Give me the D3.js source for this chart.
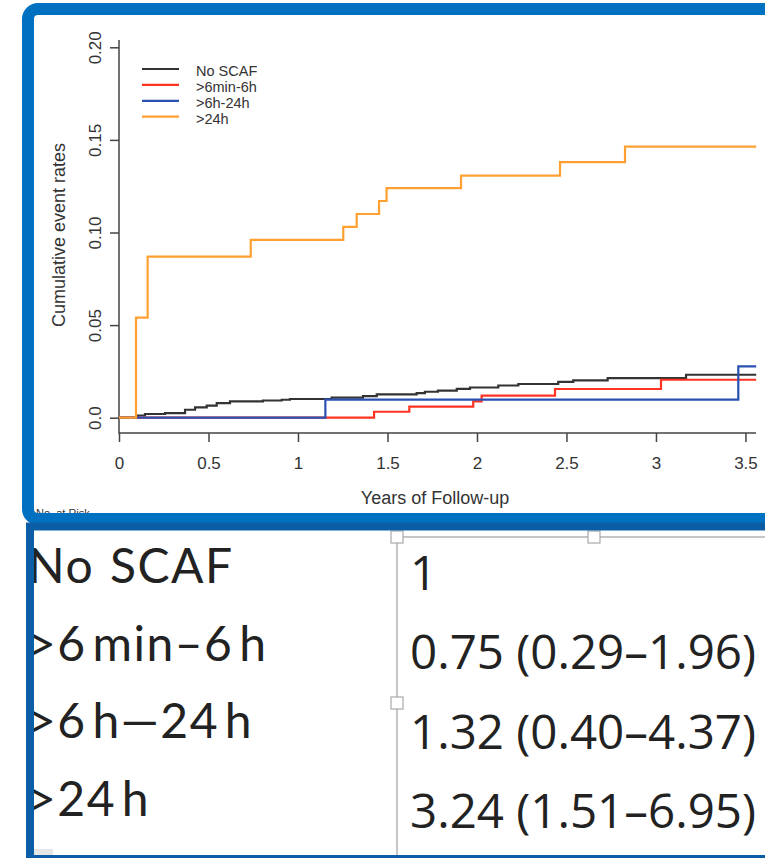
<!DOCTYPE html>
<html>
<head>
<meta charset="utf-8">
<script src="https://cdn.jsdelivr.net/npm/d3@7/dist/d3.min.js"></script>
<style>
  body { margin: 0; background: #fff; }
  svg { display: block; }
</style>
</head>
<body>
<svg id="chart" width="765" height="858"></svg>
<script>
// curve data (years, cumulative rate)
var noScafT = [0, 0.106, 0.145, 0.257, 0.369, 0.425, 0.49, 0.546, 0.62, 0.804, 0.909, 0.955,
               1.188, 1.363, 1.44, 1.663, 1.709, 1.782, 1.887, 1.961, 2.119, 2.231, 2.454,
               2.538, 2.73, 3.168, 3.56];
var noScafV = [0, 0.0012, 0.002, 0.0025, 0.0043, 0.0056, 0.0065, 0.0079, 0.0088, 0.0093, 0.0097, 0.0101,
               0.0108, 0.0117, 0.0126, 0.0133, 0.014, 0.0146, 0.0156, 0.0163, 0.0174, 0.0182, 0.0193,
               0.0202, 0.0214, 0.0232, 0.0232];
var minToSixT = [0, 1.425, 1.622, 1.979, 2.026, 2.436, 3.028, 3.56];
var minToSixV = [0, 0.0032, 0.006, 0.0088, 0.0119, 0.0155, 0.0205, 0.0205];
var sixTo24T = [0, 1.153, 3.46, 3.56];
var sixTo24V = [0, 0.0098, 0.0277, 0.0277];
var over24T = [0, 0.095, 0.16, 0.736, 1.253, 1.328, 1.453, 1.495, 1.911, 2.464, 2.827, 3.56];
var over24V = [0, 0.054, 0.087, 0.096, 0.103, 0.110, 0.117, 0.124, 0.1307, 0.138, 0.1464, 0.1464];

var seriesNames = ['No SCAF', '>6min-6h', '>6h-24h', '>24h'];
var seriesColors = ['#333333', '#ff3322', '#2a50b2', '#ffa030'];

var xTicks = [0, 0.5, 1, 1.5, 2, 2.5, 3, 3.5];
var xTickLabels = ['0', '0.5', '1', '1.5', '2', '2.5', '3', '3.5'];
var yTicks = [0, 0.05, 0.10, 0.15, 0.20];
var yTickLabels = ['0.0', '0.05', '0.10', '0.15', '0.20'];

// table under the plot
var groupLabels = ['No SCAF', '>6 min\u20136 h', '>6 h\u201424 h', '>24 h'];
var hazardLabels = ['1', '0.75 (0.29\u20131.96)', '1.32 (0.40\u20134.37)', '3.24 (1.51\u20136.95)'];

var svg = d3.select('#chart');
var series = [
    {t: noScafT, v: noScafV},
    {t: minToSixT, v: minToSixV},
    {t: sixTo24T, v: sixTo24V},
    {t: over24T, v: over24V}
];

var x = d3.scaleLinear().domain([0, 3.56]).range([119, 756.2]);
var y = d3.scaleLinear().domain([0, 0.2]).range([417.7, 47.3]);
var box = {left: 119, right: 756, top: 40, bottom: 433};
var axisColor = '#444';

// top panel
svg.append('rect')
    .attr('x', 28).attr('y', 9).attr('width', 800).attr('height', 510)
    .attr('rx', 10).attr('fill', '#fff');

var plot = svg.append('g');

// L-shaped box
plot.append('path')
    .attr('d', 'M' + box.left + ',' + box.top + 'V' + box.bottom + 'H' + box.right)
    .attr('fill', 'none').attr('stroke', axisColor).attr('stroke-width', 1.5);

var xAxis = d3.axisBottom(x)
    .tickValues(xTicks)
    .tickSize(9)
    .tickFormat(function (d, i) { return xTickLabels[i]; });

var gx = plot.append('g')
    .attr('transform', 'translate(0,' + box.bottom + ')')
    .call(xAxis);
gx.select('.domain').remove();
gx.selectAll('.tick line').attr('stroke', axisColor).attr('stroke-width', 1.5);
gx.selectAll('.tick text')
    .attr('y', 36).attr('dy', 0)
    .attr('fill', '#333')
    .style('font-family', 'Liberation Sans, Arial, sans-serif')
    .style('font-size', '17px');

var yAxis = d3.axisLeft(y)
    .tickValues(yTicks)
    .tickSize(9)
    .tickFormat(function (d, i) { return yTickLabels[i]; });

var gy = plot.append('g')
    .attr('transform', 'translate(' + box.left + ',0)')
    .call(yAxis);
gy.select('.domain').remove();
gy.selectAll('.tick line').attr('stroke', axisColor).attr('stroke-width', 1.5);
gy.selectAll('.tick text')
    .attr('transform', 'rotate(-90)')
    .attr('x', 0).attr('y', -18).attr('dy', 0)
    .attr('text-anchor', 'middle')
    .attr('fill', '#333')
    .style('font-family', 'Liberation Sans, Arial, sans-serif')
    .style('font-size', '17px');

plot.append('text')
    .attr('transform', 'translate(65,235) rotate(-90)')
    .attr('text-anchor', 'middle')
    .attr('fill', '#333')
    .style('font-family', 'Liberation Sans, Arial, sans-serif')
    .style('font-size', '18px')
    .text('Cumulative event rates');

plot.append('text')
    .attr('x', 435).attr('y', 504)
    .attr('text-anchor', 'middle')
    .attr('fill', '#333')
    .style('font-family', 'Liberation Sans, Arial, sans-serif')
    .style('font-size', '18px')
    .text('Years of Follow-up');

plot.append('text')
    .attr('x', 36).attr('y', 517)
    .attr('fill', '#333')
    .style('font-family', 'Liberation Sans, Arial, sans-serif')
    .style('font-size', '11px')
    .text('No. at Risk');

// step curves
var line = d3.line()
    .x(function (d) { return x(d[0]); })
    .y(function (d) { return y(d[1]); })
    .curve(d3.curveStepAfter);

plot.selectAll('.curve')
    .data(series)
  .enter()
    .append('path')
    .attr('class', 'curve')
    .attr('fill', 'none')
    .attr('stroke', function (d, i) { return seriesColors[i]; })
    .attr('stroke-width', 2.2)
    .attr('d', function (d) { return line(d3.zip(d.t, d.v)); });

// legend
var legend = plot.append('g').attr('class', 'legend');
var entries = legend.selectAll('.entry')
    .data(seriesNames)
  .enter()
    .append('g')
    .attr('class', 'entry')
    .attr('transform', function (d, i) { return 'translate(142,' + (69 + i * 15.9) + ')'; });

entries.append('line')
    .attr('x1', 0).attr('x2', 37)
    .attr('stroke', function (d, i) { return seriesColors[i]; })
    .attr('stroke-width', 2.2);

entries.append('text')
    .attr('x', 54).attr('y', 7)
    .attr('fill', '#333')
    .style('font-family', 'Liberation Sans, Arial, sans-serif')
    .style('font-size', '14.5px')
    .text(function (d) { return d; });

// frame of the top panel, drawn over the content
svg.append('rect')
    .attr('x', 28).attr('y', 9).attr('width', 800).attr('height', 510)
    .attr('rx', 10).attr('fill', 'none')
    .attr('stroke', '#0070c0').attr('stroke-width', 12);

// bottom panel
svg.append('rect')
    .attr('x', 30).attr('y', 526.5).attr('width', 800).attr('height', 332.5)
    .attr('fill', '#fff');

var table = svg.append('g');

table.append('path')
    .attr('d', 'M397,537V858M397,537H765')
    .attr('fill', 'none').attr('stroke', '#b4b4b4').attr('stroke-width', 1.5);

var leftRow = d3.scaleLinear().domain([0, 3]).range([583, 816]);
var rightRow = d3.scaleLinear().domain([0, 3]).range([590, 828]);

table.selectAll('.group')
    .data(groupLabels)
  .enter()
    .append('text')
    .attr('class', 'group')
    .attr('x', 28)
    .attr('y', function (d, i) { return leftRow(i); })
    .attr('fill', '#222')
    .style('font-family', 'Lato, sans-serif')
    .style('font-size', '48px')
    .style('letter-spacing', '1.5px')
    .style('word-spacing', function (d, i) { return i === 0 ? '2px' : '-8px'; })
    .text(function (d) { return d; });

table.selectAll('.hr')
    .data(hazardLabels)
  .enter()
    .append('text')
    .attr('class', 'hr')
    .attr('x', 410)
    .attr('y', function (d, i) { return rightRow(i); })
    .attr('fill', '#222')
    .style('font-family', 'Open Sans, sans-serif')
    .style('font-size', '47.5px')
    .text(function (d) { return d; });

// selection handles
var handles = [[397, 537], [594, 537], [397, 703]];
table.selectAll('.handle')
    .data(handles)
  .enter()
    .append('rect')
    .attr('class', 'handle')
    .attr('x', function (d) { return d[0] - 6; })
    .attr('y', function (d) { return d[1] - 6; })
    .attr('width', 12).attr('height', 12)
    .attr('fill', '#fff').attr('stroke', '#a8a8a8').attr('stroke-width', 1.2);

table.append('rect')
    .attr('x', 34).attr('y', 849).attr('width', 19).attr('height', 6)
    .attr('fill', '#e6e6e6');

svg.append('rect')
    .attr('x', 30).attr('y', 526.5).attr('width', 800).attr('height', 332.5)
    .attr('fill', 'none')
    .attr('stroke', '#0b5ea6').attr('stroke-width', 8);
</script>
</body>
</html>
